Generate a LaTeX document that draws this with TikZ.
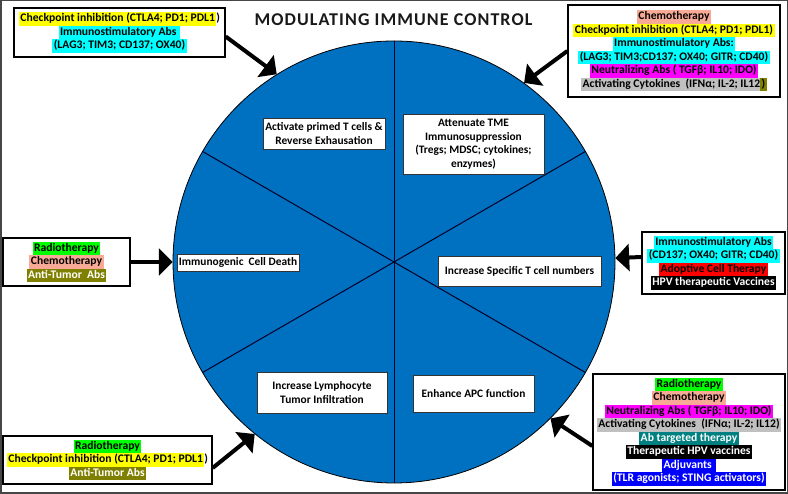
\documentclass[tikz,border=0pt]{standalone}
\usepackage{fontspec}
\setmainfont{Carlito}
\usepackage{tikz}
\usetikzlibrary{arrows}

\definecolor{immblue}{RGB}{0,112,192}
\definecolor{salmon}{RGB}{248,170,150}
\definecolor{hlgray}{RGB}{192,192,192}
\definecolor{olivebg}{RGB}{128,128,0}
\definecolor{tealbg}{RGB}{0,128,128}
\definecolor{framegray}{RGB}{70,70,70}
\definecolor{hlcyan}{RGB}{0,255,255}
\definecolor{hlyellow}{RGB}{255,255,0}
\definecolor{hlmagenta}{RGB}{255,0,255}
\definecolor{hlgreen}{RGB}{0,255,0}
\definecolor{hlred}{RGB}{255,0,0}
\definecolor{hlblue}{RGB}{0,0,255}

\setlength{\fboxsep}{0pt}
\newcommand{\hl}[3][black]{\colorbox{#2}{\color{#1}\hspace{1.5pt}\strut#3\hspace{1.5pt}}}

\tikzset{
  treat/.style={draw=black, line width=1.3pt, fill=white, align=center, inner sep=2pt,
    font=\bfseries\fontsize{11.6}{13.5}\selectfont},
  sectorbox/.style={draw=black!80, line width=0.6pt, fill=white, align=center, inner sep=2pt,
    font=\bfseries\fontsize{11.4}{13.5}\selectfont},
  arr/.style={line width=4pt, -triangle 90}
}

\begin{document}
\begin{tikzpicture}[x=1pt,y=1pt]
\useasboundingbox (0,0) rectangle (788,494);
\draw[framegray, line width=1.5pt] (0.75,0.75) rectangle (787.25,493.25);

\node[text=black!90, font=\bfseries\fontsize{18}{20}\selectfont\addfontfeature{LetterSpace=6}] (title) at (393.5,474) {MODULATING IMMUNE CONTROL};

% the wheel
\node[circle, draw=black, line width=0.8pt, fill=immblue, minimum size=442pt, inner sep=0pt] (c) at (394,232) {};
\draw[line width=1pt, black!85!blue] (c.90) -- (c.270);
\draw[line width=1pt, black!85!blue] (c.30) -- (c.210);
\draw[line width=1pt, black!85!blue] (c.150) -- (c.330);

\node[sectorbox, minimum width=122pt, minimum height=31pt] (s1) at (324,360.5) {Activate primed T cells \&\\Reverse Exhausation};
\node[sectorbox, minimum width=141pt, minimum height=60pt] (s2) at (473.5,350) {Attenuate TME\\Immunosuppression\\(Tregs; MDSC; cytokines;\\enzymes)};
\node[sectorbox, minimum width=122pt, minimum height=17pt] (s3) at (238,231.5) {Immunogenic\ \ Cell Death};
\node[sectorbox, minimum width=163pt, minimum height=30pt] (s4) at (519.5,223) {Increase Specific T cell numbers};
\node[sectorbox, minimum width=130pt, minimum height=41pt] (s5) at (322,101.5) {Increase Lymphocyte\\Tumor Infiltration};
\node[sectorbox, minimum width=121pt, minimum height=37pt] (s6) at (473.5,100.5) {Enhance APC function};

% treatments
\node[treat, minimum width=211pt, minimum height=49pt] (tl) at (119.5,461.5) {\hl{hlyellow}{Checkpoint inhibition (CTLA4; PD1; PDL1}{)}\\\hl{hlcyan}{Immunostimulatory Abs\ }\\\hl{hlcyan}{(LAG3; TIM3; CD137; OX40)}};
\node[treat, minimum width=212pt, minimum height=92pt] (tr) at (674,443) {\hl{salmon}{Chemotherapy}\\\hl{hlyellow}{Checkpoint inhibition (CTLA4; PD1; PDL1)}\\\hl{hlcyan}{Immunostimulatory Abs:}\\\hl{hlcyan}{(LAG3; TIM3;CD137; OX40; GITR; CD40)}\\\hl{hlmagenta}{Neutralizing Abs ( TGFβ; IL10; IDO)}\\\hl{hlgray}{Activating Cytokines\ \ (IFNα; IL-2; IL12}\hspace{-1.5pt}\hl{olivebg}{)}};
\node[treat, minimum width=127pt, minimum height=48pt] (lt) at (66.5,232) {\hl{hlgreen}{Radiotherapy}\\\hl{salmon}{Chemotherapy}\\\hl[white]{olivebg}{Anti-Tumor\ \ Abs}};
\node[treat, minimum width=143pt, minimum height=62pt] (rt) at (713.5,231) {\hl{hlcyan}{Immunostimulatory Abs}\\\hl{hlcyan}{(CD137; OX40; GITR; CD40)}\\\hl{hlred}{Adoptive Cell Therapy}\\\hl[white]{black}{HPV therapeutic Vaccines}};
\node[treat, minimum width=192pt, minimum height=116pt] (br) at (689,62) {\hl{hlgreen}{Radiotherapy}\\\hl{salmon}{Chemotherapy}\\\hl{hlmagenta}{Neutralizing Abs ( TGFβ; IL10; IDO)}\\\hl{hlgray}{Activating Cytokines\ \ (IFNα; IL-2; IL12)}\\\hl[white]{tealbg}{Ab targeted therapy}\\\hl[white]{black}{Therapeutic HPV vaccines}\\\hl[white]{hlblue}{Adjuvants\ }\\\hl[white]{hlblue}{(TLR agonists; STING activators)}};
\node[treat, minimum width=209pt, minimum height=48pt] (bl) at (107.5,34) {\hl{hlgreen}{Radiotherapy}\\\hl{hlyellow}{Checkpoint inhibition (CTLA4; PD1; PDL1}{)}\\\hl[white]{olivebg}{Anti-Tumor Abs}};

\draw[arr] ([yshift=-4pt]tl.east) -- (c.122);
\draw[arr] (tr.west) -- (c.54);
\draw[arr] (lt.east) -- (c.180);
\draw[arr] ([yshift=6pt]rt.west) -- (c.1);
\draw[arr] ([yshift=-14pt]br.west) -- (c.-45);
\draw[arr] ([yshift=-8pt]bl.east) -- (c.231);
\end{tikzpicture}
\end{document}
